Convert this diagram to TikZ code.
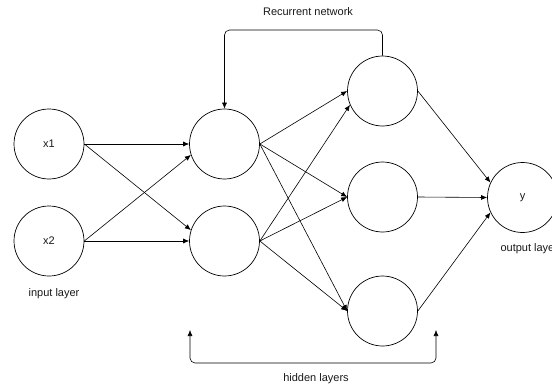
\documentclass[tikz,border=0pt]{standalone}
\usepackage{fontspec}
\setmainfont{Liberation Sans}
\usetikzlibrary{arrows.meta}
\begin{document}
\begin{tikzpicture}[x=1pt,y=-1pt,
  neuron/.style={draw,circle,minimum size=70pt,inner sep=0pt,line width=0.7pt},
  lbl/.style={font=\fontsize{11}{13}\selectfont},
  tip/.style={Latex[length=6pt,width=5pt]},
  conn/.style={line width=0.6pt,-{Latex[length=6pt,width=5pt]}},
  every node/.append style={text=black!90}]
\useasboundingbox (0,0) rectangle (552,388);
\node[neuron,lbl] (x1) at (49,144) {x1};
\node[neuron,lbl] (x2) at (49,241) {x2};
\node[neuron] (h1) at (224.5,144) {};
\node[neuron] (h2) at (224.5,241) {};
\node[neuron] (g1) at (382.5,91) {};
\node[neuron] (g2) at (382.5,197) {};
\node[neuron] (g3) at (382.5,311) {};
\node[neuron,lbl] (y) at (522.5,197.5) {y};
\node[lbl] (rec) at (308,12) {Recurrent network};
\node[lbl] (inl) at (54,294) {input layer};
\node[lbl,anchor=west] (outl) at (497,249) {output layer};
\node[lbl] (hid) at (316,379) {hidden layers};
\coordinate (bl) at (190,330);
\coordinate (br) at (436,330);
% input to hidden 1
\draw[conn] (x1.east) -- (h1.west);
\draw[conn] (x1.east) -- (h2.162);
\draw[conn] (x2.east) -- (h1.198);
\draw[conn] (x2.east) -- (h2.west);
% hidden 1 to hidden 2
\draw[conn] (h1.east) -- (g1.west);
\draw[conn] (h1.east) -- (g2.west);
\draw[conn] (h1.east) -- (g3.west);
\draw[conn] (h2.east) -- (g1.203);
\draw[conn] (h2.east) -- (g2.west);
\draw[conn] (h2.east) -- (g3.west);
% hidden 2 to output
\draw[conn] (g1.east) -- (y.155);
\draw[conn] (g2.east) -- (y.west);
\draw[conn] (g3.east) -- (y.205);
% recurrent
\draw[conn,rounded corners=5pt] (g1.north) -- (382.5,30) -- (224.5,30) -- (h1.north);
% hidden layers bracket
\draw[line width=0.6pt,{Latex[length=6pt,width=5pt]}-{Latex[length=6pt,width=5pt]},rounded corners=5pt] (bl) -- (190,363) -- (436,363) -- (br);
\end{tikzpicture}
\end{document}
